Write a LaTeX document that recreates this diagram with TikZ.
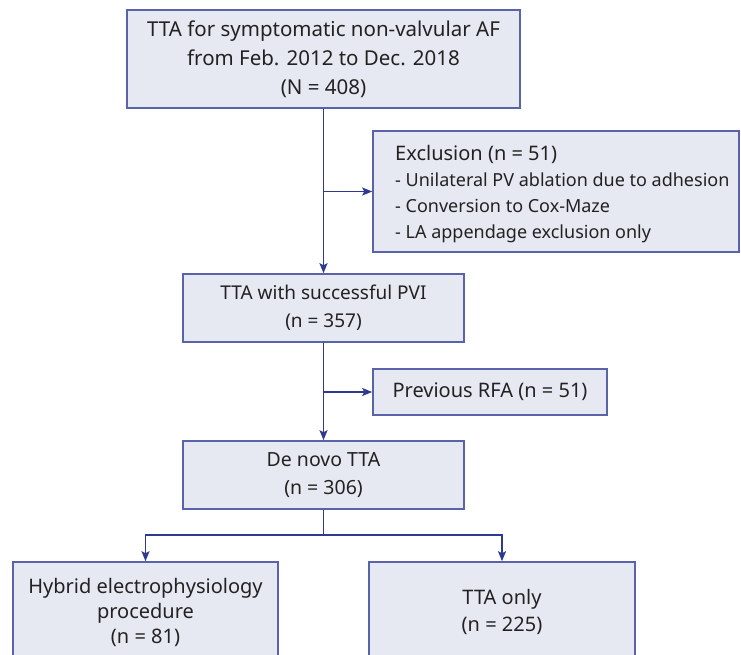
\documentclass[tikz,border=0pt]{standalone}
\usepackage{fontspec}
\setmainfont{Noto Sans}
\usetikzlibrary{arrows.meta}
\definecolor{boxfill}{HTML}{E7E9F2}
\definecolor{boxdraw}{HTML}{5A63AA}
\definecolor{arrowc}{HTML}{2E3A8F}
\definecolor{txt}{HTML}{222222}
\begin{document}
\begin{tikzpicture}[x=1pt,y=-1pt,
  box/.style={draw=boxdraw, fill=boxfill, line width=1.6pt, inner sep=0pt,
    font=\fontsize{20}{26}\selectfont, text=txt, align=center},
  conn/.style={draw=arrowc, line width=1.6pt},
  arr/.style={conn, -{Stealth[length=10pt,width=8pt,inset=2pt]}}]
\useasboundingbox (0,0) rectangle (741,654);
\clip (0,0) rectangle (741,654);
\fill[white] (0,0) rectangle (741,654);
\node[box, minimum width=393pt, minimum height=98pt, font=\fontsize{20.5}{29}\selectfont] (top) at (323.5,59)
  {TTA for symptomatic non-valvular AF\\from Feb. 2012 to Dec. 2018\\(N = 408)};
\node[box, minimum width=366pt, minimum height=121pt] (excl) at (556,191.5) {};
\node[anchor=west, align=left, inner sep=0pt, font=\fontsize{18}{26}\selectfont, text=txt] (excltext) at (395,194)
  {{\fontsize{20}{26}\selectfont Exclusion (n = 51)}\\- Unilateral PV ablation due to adhesion\\- Conversion to Cox-Maze\\- LA appendage exclusion only};
\node[box, minimum width=281pt, minimum height=68pt, font=\fontsize{19}{28}\selectfont] (pvi) at (323.5,308)
  {TTA with successful PVI\\(n = 357)};
\node[box, minimum width=234pt, minimum height=46pt] (rfa) at (490,392)
  {Previous RFA (n = 51)};
\node[box, minimum width=281pt, minimum height=68pt, font=\fontsize{19.5}{28}\selectfont] (denovo) at (323.5,475)
  {De novo TTA\\(n = 306)};
\node[box, minimum width=265pt, minimum height=100pt, font=\fontsize{20}{25}\selectfont] (hybrid) at (145.5,612)
  {Hybrid electrophysiology\\procedure\\(n = 81)};
\node[box, minimum width=266pt, minimum height=100pt, font=\fontsize{20}{27}\selectfont] (ttaonly) at (502,612)
  {TTA only\\(n = 225)};
\draw[arr] (top.south) -- (pvi.north);
\draw[arr] (top.south |- excl.west) -- (excl.west);
\draw[arr] (pvi.south) -- (denovo.north);
\draw[arr] (pvi.south |- rfa.west) -- (rfa.west);
\coordinate (split) at (323.5,535);
\draw[conn] (denovo.south) -- (split);
\draw[arr] (split) -| (hybrid.north);
\draw[arr] (split) -| (ttaonly.north);
\end{tikzpicture}
\end{document}
